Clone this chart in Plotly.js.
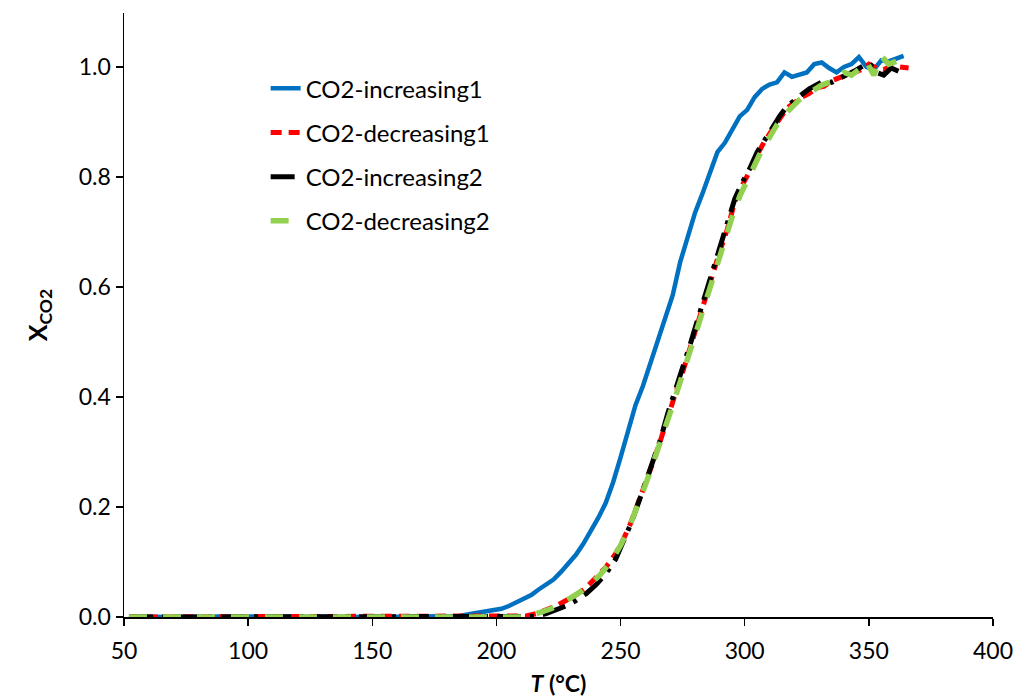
<!DOCTYPE html>
<html>
<head>
<meta charset="utf-8">
<script src="https://cdn.plot.ly/plotly-3.0.1.min.js"></script>
<style>html,body{margin:0;padding:0;background:#fff;}#chart{width:1021px;height:700px;}</style>
</head>
<body>
<div id="chart"></div>
<script>
// Series names
var seriesNames = ["CO2-increasing1", "CO2-decreasing1", "CO2-increasing2", "CO2-decreasing2"];

// CO2-increasing1 (blue)
var inc1T = [52,70,90,110,130,150,170,185,190,193,196,199,202,205,208,211,214,217,220,223,226,229,232,235,238,241,244,247,250,253,256,259,262,265,268,271,274,277,280,283,286,289,292,295,298,301,304,307,310,313,316,319,322,325,328,331,334,337,340,343,346,349,352,355,358,361,364];
var inc1X = [0.001,0,0.001,0,0.001,0,0.001,0.002,0.006,0.008,0.009,0.013,0.015,0.02,0.027,0.033,0.04,0.05,0.058,0.068,0.082,0.097,0.113,0.133,0.156,0.18,0.207,0.245,0.29,0.34,0.385,0.42,0.46,0.505,0.54,0.585,0.645,0.69,0.735,0.77,0.805,0.845,0.862,0.888,0.91,0.922,0.945,0.96,0.968,0.972,0.99,0.982,0.985,0.99,1.005,1.008,0.998,0.99,1.0,1.005,1.018,1.0,0.995,1.012,1.01,1.015,1.02];

// CO2-decreasing1 (red)
var dec1T = [52,70,90,110,130,150,170,190,205,212,216,220,224,228,232,236,240,244,248,251,254,257,260,263,266,269,272,275,278,281,284,287,290,293,296,299,302,305,308,311,314,317,320,323,326,329,332,335,338,341,344,347,350,353,356,359,362,366];
var dec1X = [0,0,0,0,0,0,0,0,0,0.002,0.006,0.012,0.02,0.03,0.04,0.053,0.07,0.09,0.115,0.14,0.17,0.205,0.245,0.28,0.32,0.365,0.405,0.445,0.49,0.535,0.578,0.622,0.665,0.705,0.755,0.785,0.81,0.84,0.865,0.885,0.905,0.925,0.935,0.945,0.952,0.962,0.965,0.975,0.98,0.985,0.99,0.995,1.005,0.998,0.995,1.002,1.0,0.998];

// CO2-increasing2 (black)
var inc2T = [52,70,90,110,130,150,170,190,205,215,220,224,228,232,236,240,244,248,251,254,257,260,263,266,269,272,275,278,281,284,287,290,293,296,299,302,305,308,311,314,317,320,323,326,329,332,335,338,341,344,347,350,353,356,359,362];
var inc2X = [0,0,0,0,0,0,0,0,0,0.001,0.006,0.012,0.02,0.03,0.042,0.058,0.078,0.105,0.135,0.168,0.205,0.243,0.282,0.322,0.37,0.41,0.452,0.495,0.54,0.585,0.628,0.672,0.715,0.76,0.79,0.815,0.845,0.868,0.888,0.91,0.928,0.94,0.95,0.96,0.968,0.975,0.972,0.978,0.985,0.992,1.0,1.008,0.99,0.985,0.998,0.992];

// CO2-decreasing2 (green)
var dec2T = [52,70,90,110,130,150,170,190,210,214,218,222,226,230,234,238,242,246,250,253,256,259,262,265,268,271,274,277,280,283,286,289,292,295,298,301,304,307,310,313,316,319,322,325,328,331,334,337,340,343,346,349,352,355,358,361];
var dec2X = [0,0,0,0,0,0,0,0,0,0.003,0.008,0.015,0.024,0.034,0.046,0.06,0.078,0.1,0.13,0.158,0.19,0.228,0.265,0.302,0.345,0.385,0.425,0.47,0.512,0.555,0.6,0.642,0.685,0.728,0.765,0.795,0.822,0.85,0.872,0.895,0.913,0.928,0.94,0.95,0.96,0.967,0.972,0.978,0.99,0.985,0.995,1.01,0.985,1.02,1.005,1.01];

// Axis ticks
var xTicks = [50,100,150,200,250,300,350,400];
var yTicks = [0.0,0.2,0.4,0.6,0.8,1.0];

var FONT = "Lato, 'Open Sans', sans-serif";

var traces = [
  {x: inc1T, y: inc1X, name: seriesNames[0], legendgroup: "a", mode: "lines",
   line: {color: "#0070C0", width: 4.5}},
  {x: dec1T, y: dec1X, name: seriesNames[1], legendgroup: "b", mode: "lines",
   line: {color: "#FF0000", width: 5, dash: "11px,7px"}},
  {x: inc2T, y: inc2X, name: seriesNames[2], legendgroup: "c", mode: "lines",
   line: {color: "#000000", width: 5, dash: "24px,9px,4px,9px"}},
  {x: dec2T, y: dec2X, name: seriesNames[3], legendgroup: "d", mode: "lines",
   line: {color: "#92D050", width: 5.5, dash: "18px,16px"}}
];

var layout = {
  width: 1021, height: 700,
  margin: {l: 124, r: 28, t: 13, b: 83},
  paper_bgcolor: "#fff", plot_bgcolor: "#fff",
  font: {family: FONT, size: 23, color: "#000"},
  showlegend: true,
  legend: {x: 0.163, y: 0.912, xanchor: "left", yanchor: "top",
           traceorder: "grouped", tracegroupgap: 10,
           bgcolor: "rgba(0,0,0,0)", font: {family: FONT, size: 24, color: "#000"}},
  xaxis: {range: [50, 400], tickvals: xTicks, ticktext: xTicks.map(String),
          showgrid: false, zeroline: false, showline: true, linecolor: "#000", linewidth: 1.5,
          ticks: "outside", ticklen: 7, tickwidth: 1.5, tickcolor: "#000",
          ticklabelstandoff: 6,
          tickfont: {family: FONT, size: 23, color: "#000"},
          title: {text: "<b><i>T</i> (°C)</b>", font: {family: FONT, size: 23, color: "#000"}, standoff: 13}},
  yaxis: {range: [0, 1.098], tickvals: yTicks, ticktext: yTicks.map(function(v){return v.toFixed(1);}),
          showgrid: false, zeroline: false, showline: true, linecolor: "#000", linewidth: 1.5,
          ticks: "outside", ticklen: 7, tickwidth: 1.5, tickcolor: "#000",
          tickfont: {family: FONT, size: 23, color: "#000"},
          title: {text: "<b>X<sub>CO2</sub></b>", font: {family: FONT, size: 25, color: "#000"}, standoff: 24}}
};

Plotly.newPlot("chart", traces, layout, {staticPlot: true, displayModeBar: false});
</script>
</body>
</html>
